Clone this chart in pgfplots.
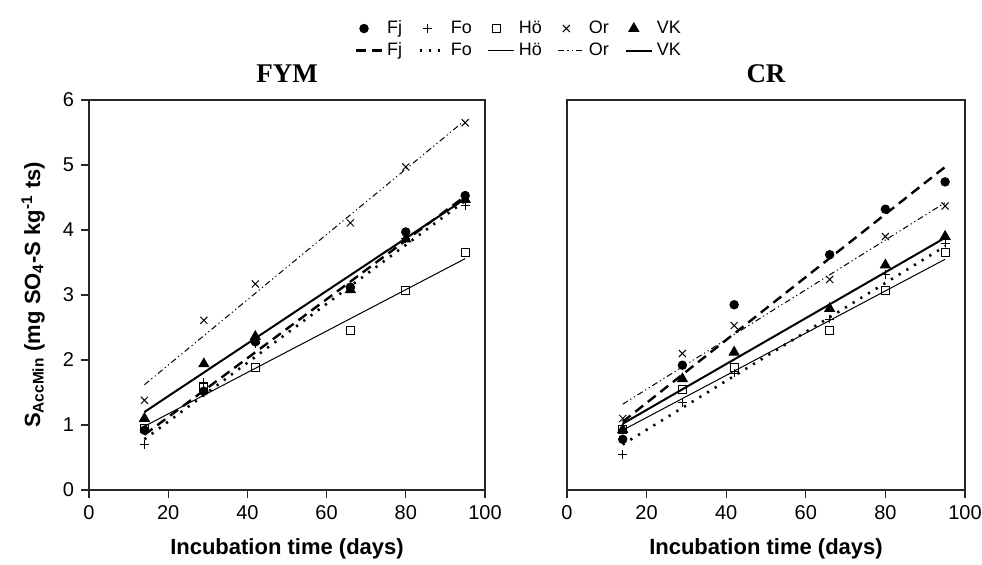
\documentclass[border=0pt]{standalone}
\usepackage{fontspec}
\setmainfont{Liberation Sans}
\newfontfamily\titlefont{Liberation Serif}
\usepackage{pgfplots}
\pgfplotsset{compat=1.18}

% regression-line styles
\tikzset{
  fjline/.style={black, line width=1.2pt, dash pattern=on 5pt off 3pt},
  foline/.style={black, line width=1.3pt, dash pattern=on 1.1pt off 3.4pt},
  holine/.style={black, line width=0.5pt},
  orline/.style={black, line width=0.5pt, dash pattern=on 3pt off 1.5pt on 0.6pt off 1.5pt on 0.6pt off 1.5pt},
  vkline/.style={black, line width=1pt},
}

\pgfplotsset{
  panel/.style={
    scale only axis, width=198pt, height=195pt,
    xmin=0, xmax=100, ymin=0, ymax=6,
    xtick={0,20,...,100},
    tick align=outside, major tick length=4pt,
    xtick pos=bottom, ytick pos=left,
    axis line style={line width=0.6pt, black!85},
    tick style={line width=0.6pt, black!85},
    tick label style={font=\fontsize{10}{12}\selectfont},
    /pgf/number format/assume math mode=true,
    xlabel={\textbf{Incubation time (days)}},
    xlabel style={at={(axis description cs:0.5,-0.152)}, anchor=center, font=\fontsize{11}{13}\selectfont},
    title style={at={(axis description cs:0.5,1)}, anchor=base, yshift=3pt, font=\titlefont\bfseries\fontsize{13.5}{15}\selectfont},
    clip=false,
  },
  mk/.style={only marks, black, line width=0.5pt,
    legend image code/.code={\draw[##1] plot coordinates {(4pt,0pt)};}},
  ln/.style={no marks,
    legend image code/.code={\draw[##1] (0pt,0pt) -- (13pt,0pt);}},
}

\begin{document}
\begin{tikzpicture}
\useasboundingbox (0,0) rectangle (491pt,282pt);

% ---------- FYM ----------
\begin{axis}[panel, at={(44.5pt,37pt)}, anchor=south west,
  title={FYM},
  ytick={0,1,...,6},
  ylabel={\textbf{S\textsubscript{AccMin} (mg SO\textsubscript{4}-S kg\textsuperscript{-1} ts)}},
  ylabel style={at={(axis description cs:-0.141,0.5)}, rotate=0, anchor=center, font=\fontsize{11}{13}\selectfont},
  legend columns=5,
  legend style={at={(axis description cs:1.088,1.155)}, anchor=center, draw=none, fill=none,
    font=\fontsize{9}{10.5}\selectfont, row sep=-1pt,
    /tikz/every even column/.append style={column sep=6pt}},
  legend cell align=left,
]
\addplot[mk, mark=*, mark size=2.1pt] coordinates {(14,0.92)(29,1.52)(42,2.28)(66,3.12)(80,3.97)(95,4.53)};
\addlegendentry{Fj}
\addplot[mk, mark=+, mark size=2.2pt] coordinates {(14,0.70)(29,1.65)(42,2.25)(66,3.10)(80,3.87)(95,4.38)};
\addlegendentry{Fo}
\addplot[mk, mark=square, mark size=2pt] coordinates {(14,0.95)(29,1.57)(42,1.89)(66,2.46)(80,3.07)(95,3.66)};
\addlegendentry{Hö}
\addplot[mk, mark=x, mark size=2.5pt] coordinates {(14,1.38)(29,2.61)(42,3.17)(66,4.11)(80,4.97)(95,5.65)};
\addlegendentry{Or}
\addplot[mk, mark=triangle*, mark size=2.8pt] coordinates {(14,1.10)(29,1.94)(42,2.36)(66,3.08)(80,3.86)(95,4.47)};
\addlegendentry{VK}
\addplot[ln, fjline] coordinates {(14,0.85)(95,4.52)};
\addlegendentry{Fj}
\addplot[ln, foline] coordinates {(14,0.78)(95,4.45)};
\addlegendentry{Fo}
\addplot[ln, holine] coordinates {(14,0.98)(95,3.56)};
\addlegendentry{Hö}
\addplot[ln, orline] coordinates {(14,1.62)(95,5.69)};
\addlegendentry{Or}
\addplot[ln, vkline] coordinates {(14,1.20)(95,4.48)};
\addlegendentry{VK}
\end{axis}

% ---------- CR ----------
\begin{axis}[panel, at={(283.5pt,37pt)}, anchor=south west, width=199pt,
  title={CR}, ytick=\empty,
]
\addplot[mk, mark=*, mark size=2.1pt] coordinates {(14,0.78)(29,1.92)(42,2.85)(66,3.62)(80,4.32)(95,4.74)};
\addplot[mk, mark=+, mark size=2.2pt] coordinates {(14,0.55)(29,1.35)(42,1.80)(66,2.63)(80,3.32)(95,3.80)};
\addplot[mk, mark=square, mark size=2pt] coordinates {(14,0.93)(29,1.55)(42,1.88)(66,2.46)(80,3.07)(95,3.65)};
\addplot[mk, mark=x, mark size=2.5pt] coordinates {(14,1.10)(29,2.10)(42,2.53)(66,3.24)(80,3.90)(95,4.37)};
\addplot[mk, mark=triangle*, mark size=2.8pt] coordinates {(14,0.93)(29,1.71)(42,2.12)(66,2.79)(80,3.46)(95,3.90)};
\addplot[ln, fjline] coordinates {(14,1.05)(95,4.97)};
\addplot[ln, foline] coordinates {(14,0.70)(95,3.75)};
\addplot[ln, holine] coordinates {(14,0.92)(95,3.55)};
\addplot[ln, orline] coordinates {(14,1.32)(95,4.42)};
\addplot[ln, vkline] coordinates {(14,1.02)(95,3.88)};
\end{axis}
\end{tikzpicture}
\end{document}
